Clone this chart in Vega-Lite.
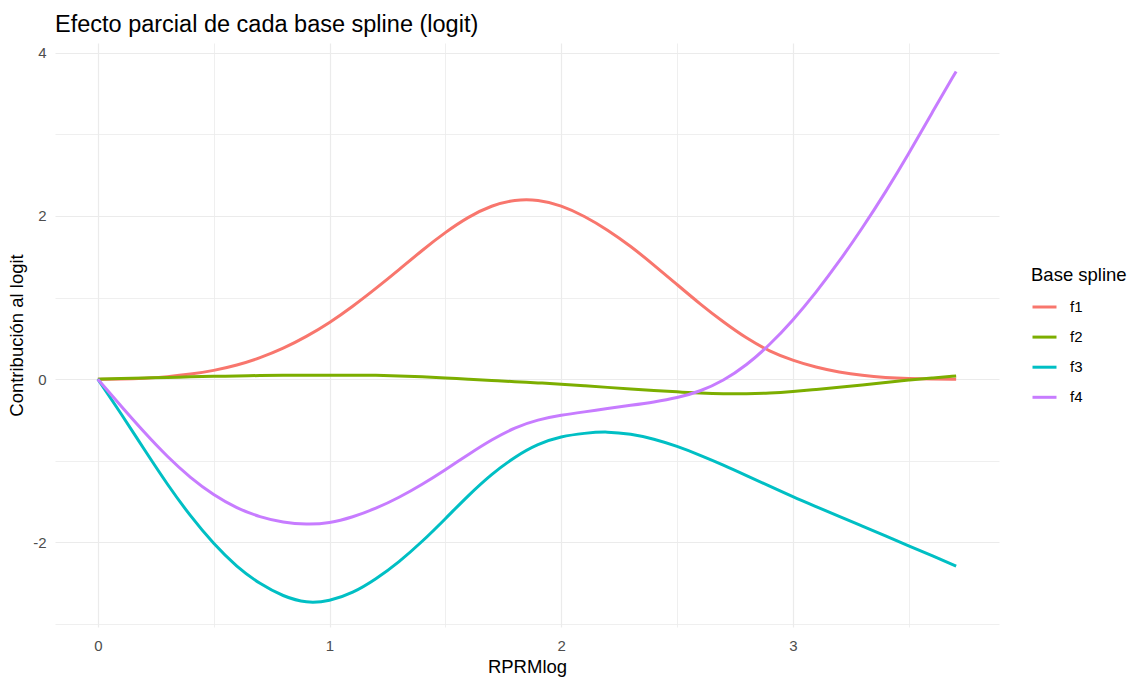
{
  "$schema": "https://vega.github.io/schema/vega-lite/v6.json",
  "width": 944,
  "height": 584,
  "autosize": {"type": "none"},
  "padding": {"left": 55, "top": 43, "right": 131, "bottom": 50},
  "background": "white",
  "config": {
    "view": {"stroke": null},
    "font": "Liberation Sans"
  },
  "title": {
    "text": "Efecto parcial de cada base spline (logit)",
    "anchor": "start",
    "frame": "group",
    "fontSize": 23.5,
    "font": "Liberation Sans",
    "fontWeight": "normal",
    "color": "#000000",
    "offset": 7
  },
  "data": {
    "values": [
      {"x": 0.0, "f1": 0, "f2": 0, "f3": 0, "f4": 0},
      {"x": 0.1, "f1": 0.001, "f2": 0.01, "f3": -0.42, "f4": -0.33},
      {"x": 0.2, "f1": 0.01, "f2": 0.015, "f3": -0.86, "f4": -0.65},
      {"x": 0.3, "f1": 0.03, "f2": 0.02, "f3": -1.29, "f4": -0.95},
      {"x": 0.4, "f1": 0.06, "f2": 0.03, "f3": -1.68, "f4": -1.21},
      {"x": 0.5, "f1": 0.105, "f2": 0.035, "f3": -2.02, "f4": -1.42},
      {"x": 0.6, "f1": 0.17, "f2": 0.04, "f3": -2.30, "f4": -1.58},
      {"x": 0.7, "f1": 0.26, "f2": 0.045, "f3": -2.51, "f4": -1.69},
      {"x": 0.8, "f1": 0.375, "f2": 0.05, "f3": -2.66, "f4": -1.755},
      {"x": 0.9, "f1": 0.52, "f2": 0.05, "f3": -2.745, "f4": -1.78},
      {"x": 1.0, "f1": 0.69, "f2": 0.05, "f3": -2.72, "f4": -1.765},
      {"x": 1.1, "f1": 0.89, "f2": 0.05, "f3": -2.62, "f4": -1.69},
      {"x": 1.2, "f1": 1.11, "f2": 0.048, "f3": -2.45, "f4": -1.585},
      {"x": 1.3, "f1": 1.34, "f2": 0.04, "f3": -2.24, "f4": -1.45},
      {"x": 1.4, "f1": 1.58, "f2": 0.03, "f3": -1.99, "f4": -1.29},
      {"x": 1.5, "f1": 1.80, "f2": 0.015, "f3": -1.71, "f4": -1.11},
      {"x": 1.6, "f1": 1.99, "f2": 0.0, "f3": -1.42, "f4": -0.92},
      {"x": 1.7, "f1": 2.13, "f2": -0.015, "f3": -1.16, "f4": -0.74},
      {"x": 1.8, "f1": 2.20, "f2": -0.03, "f3": -0.95, "f4": -0.59},
      {"x": 1.9, "f1": 2.20, "f2": -0.045, "f3": -0.79, "f4": -0.495},
      {"x": 2.0, "f1": 2.13, "f2": -0.06, "f3": -0.70, "f4": -0.44},
      {"x": 2.1, "f1": 2.00, "f2": -0.08, "f3": -0.66, "f4": -0.40},
      {"x": 2.2, "f1": 1.83, "f2": -0.10, "f3": -0.64, "f4": -0.36},
      {"x": 2.3, "f1": 1.63, "f2": -0.12, "f3": -0.67, "f4": -0.32},
      {"x": 2.4, "f1": 1.40, "f2": -0.14, "f3": -0.73, "f4": -0.28},
      {"x": 2.5, "f1": 1.16, "f2": -0.155, "f3": -0.82, "f4": -0.23},
      {"x": 2.6, "f1": 0.92, "f2": -0.17, "f3": -0.93, "f4": -0.15},
      {"x": 2.7, "f1": 0.70, "f2": -0.18, "f3": -1.05, "f4": -0.02},
      {"x": 2.8, "f1": 0.50, "f2": -0.18, "f3": -1.18, "f4": 0.17},
      {"x": 2.9, "f1": 0.34, "f2": -0.17, "f3": -1.31, "f4": 0.42},
      {"x": 3.0, "f1": 0.23, "f2": -0.15, "f3": -1.44, "f4": 0.72},
      {"x": 3.1, "f1": 0.145, "f2": -0.125, "f3": -1.56, "f4": 1.06},
      {"x": 3.2, "f1": 0.085, "f2": -0.10, "f3": -1.68, "f4": 1.44},
      {"x": 3.3, "f1": 0.045, "f2": -0.07, "f3": -1.80, "f4": 1.85},
      {"x": 3.4, "f1": 0.02, "f2": -0.04, "f3": -1.92, "f4": 2.29},
      {"x": 3.5, "f1": 0.008, "f2": -0.01, "f3": -2.04, "f4": 2.76},
      {"x": 3.6, "f1": 0.002, "f2": 0.015, "f3": -2.16, "f4": 3.26},
      {"x": 3.705, "f1": 0, "f2": 0.04, "f3": -2.29, "f4": 3.77}
    ]
  },
  "transform": [
    {"fold": ["f1", "f2", "f3", "f4"], "as": ["serie", "valor"]}
  ],
  "mark": {"type": "line", "strokeWidth": 3, "interpolate": "basis"},
  "encoding": {
    "x": {
      "field": "x",
      "type": "quantitative",
      "scale": {"domain": [-0.185, 3.89], "nice": false, "zero": false},
      "axis": {
        "title": "RPRMlog",
        "values": [0, 0.5, 1, 1.5, 2, 2.5, 3, 3.5],
        "labelExpr": "datum.value % 1 === 0 ? '' + datum.value : ''",
        "labelOverlap": false,
        "domain": false,
        "ticks": false,
        "grid": true,
        "gridColor": "#EBEBEB",
        "gridWidth": {"condition": {"test": "datum.value % 1 !== 0", "value": 0.8}, "value": 1.2},
        "labelFontSize": 15,
        "labelColor": "#4D4D4D",
        "labelPadding": 11,
        "labelFont": "Liberation Sans",
        "titleFont": "Liberation Sans",
        "titleFontSize": 18.5,
        "titleFontWeight": "normal",
        "titleColor": "#000000",
        "titlePadding": 4
      }
    },
    "y": {
      "field": "valor",
      "type": "quantitative",
      "scale": {"domain": [-3.035, 4.118], "nice": false, "zero": false},
      "axis": {
        "title": "Contribución al logit",
        "values": [-3, -2, -1, 0, 1, 2, 3, 4],
        "labelExpr": "datum.value % 2 === 0 ? '' + datum.value : ''",
        "labelOverlap": false,
        "domain": false,
        "ticks": false,
        "grid": true,
        "gridColor": "#EBEBEB",
        "gridWidth": {"condition": {"test": "datum.value % 2 !== 0", "value": 0.8}, "value": 1.2},
        "labelFontSize": 15,
        "labelColor": "#4D4D4D",
        "labelPadding": 9,
        "labelFont": "Liberation Sans",
        "titleFont": "Liberation Sans",
        "titleFontSize": 18.5,
        "titleFontWeight": "normal",
        "titleColor": "#000000",
        "titlePadding": 6
      }
    },
    "color": {
      "field": "serie",
      "type": "nominal",
      "scale": {"domain": ["f1", "f2", "f3", "f4"], "range": ["#F8766D", "#7CAE00", "#00BFC4", "#C77CFF"]},
      "legend": {
        "title": "Base spline",
        "orient": "none",
        "legendX": 976,
        "legendY": 223,
        "padding": 0,
        "titleFont": "Liberation Sans",
        "titleFontSize": 18.5,
        "titleFontWeight": "normal",
        "titleColor": "#000000",
        "titlePadding": 9,
        "labelFont": "Liberation Sans",
        "labelFontSize": 15,
        "labelColor": "#000000",
        "labelOffset": 12,
        "symbolType": "stroke",
        "symbolStrokeWidth": 3,
        "symbolSize": 576,
        "rowPadding": 8.1
      }
    }
  }
}
